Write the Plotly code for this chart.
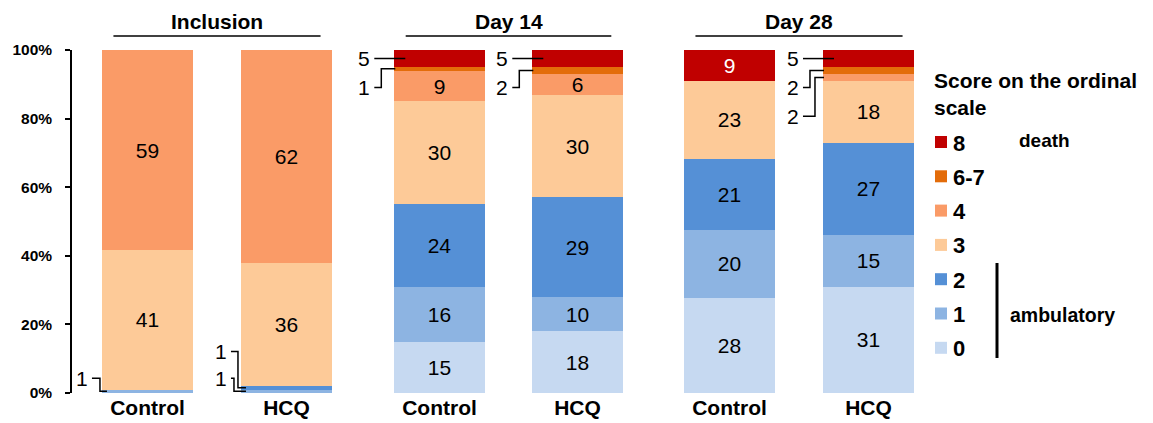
import plotly.graph_objects as go

# ---------------- data ----------------
groups = ["Inclusion", "Day 14", "Day 28"]
arms = ["Control", "HCQ"]
score_names = ["0", "1", "2", "3", "4", "6-7", "8"]
score_colors = ["#C6D9F1", "#8DB4E2", "#5590D6", "#FDCA98", "#FA9B67", "#E36C0A", "#C00000"]
# values per score, bar order: [Incl Control, Incl HCQ, D14 Control, D14 HCQ, D28 Control, D28 HCQ]
score_0 = [0, 0, 15, 18, 28, 31]
score_1 = [1, 1, 16, 10, 20, 15]
score_2 = [0, 1, 24, 29, 21, 27]
score_3 = [41, 36, 30, 30, 23, 18]
score_4 = [59, 62, 9, 6, 0, 2]
score_6_7 = [0, 0, 1, 2, 0, 2]
score_8 = [0, 0, 5, 5, 9, 5]
series = [score_0, score_1, score_2, score_3, score_4, score_6_7, score_8]
y_ticks = [0, 20, 40, 60, 80, 100]
y_tick_labels = ["0%", "20%", "40%", "60%", "80%", "100%"]
legend_title_lines = ["Score on the ordinal", "scale"]
death_label = "death"
ambulatory_label = "ambulatory"

# ---------------- layout constants ----------------
PAGE_OFF = 8                      # default body margin of the html page
W, H = 1153 - PAGE_OFF, 423 - PAGE_OFF
FONT = "Liberation Sans, Arial, sans-serif"
Y0_PX, Y100_PX = 393, 50
axes_px = [(72, 356, -0.543), (370.5, 646.5, -0.5), (660, 938, -0.5)]
BAR_FRAC = 0.655
INSIDE_MIN = 6

def px_x(p):
    return (p - PAGE_OFF) / W

def px_y(p):
    return 1 - (p - PAGE_OFF) / H

fig = go.Figure()

xa_names = ["x", "x2", "x3"]
for g in range(3):
    for k in range(7):
        vals = series[k][2 * g:2 * g + 2]
        txt = [str(v) if v >= INSIDE_MIN else "" for v in vals]
        fig.add_trace(go.Bar(
            x=arms, y=vals, xaxis=xa_names[g], yaxis="y",
            marker=dict(color=score_colors[k], line=dict(width=0)),
            text=txt, textposition="inside", insidetextanchor="middle",
            textangle=0,
            textfont=dict(size=21, family=FONT, color="white" if k == 6 else "black"),
            showlegend=False, hoverinfo="skip",
        ))

layout = dict(
    width=W, height=H, margin=dict(l=0, r=0, t=0, b=0),
    paper_bgcolor="white", plot_bgcolor="white",
    barmode="stack", barnorm="percent", bargap=1 - BAR_FRAC,
    uniformtext=dict(minsize=21, mode="show"),
    font=dict(family=FONT, color="black"),
    yaxis=dict(domain=[px_y(Y0_PX), px_y(Y100_PX)], range=[0, 100],
               anchor="x", tickvals=y_ticks,
               ticktext=["<b>%s</b>" % t for t in y_tick_labels],
               tickfont=dict(size=15.5, family=FONT, color="black"),
               ticks="outside", ticklen=5, tickwidth=1.5, tickcolor="black",
               showline=True, linewidth=1.5, linecolor="black",
               showgrid=False, zeroline=False, ticklabelstandoff=10,
               automargin=False),
)
for g in range(3):
    p0, p1, r0 = axes_px[g]
    key = "xaxis" if g == 0 else "xaxis%d" % (g + 1)
    layout[key] = dict(
        domain=[px_x(p0), px_x(p1)], range=[r0, 1.5], anchor="y",
        type="category", categoryorder="array", categoryarray=arms,
        tickvals=arms, ticktext=["<b>%s</b>" % a for a in arms],
        tickfont=dict(size=21, family=FONT, color="black"),
        showline=False, showgrid=False, zeroline=False, ticks="",
        automargin=False, fixedrange=True,
    )
fig.update_layout(**layout)

annotations = []
shapes = []

# group titles with underline
for g in range(3):
    annotations.append(dict(xref=xa_names[g], yref="paper", x=0.5, y=px_y(8),
                            text="<b>%s</b>" % groups[g], showarrow=False,
                            xanchor="center", yanchor="top",
                            font=dict(size=21, family=FONT, color="black")))
    shapes.append(dict(type="line", xref=xa_names[g], yref="paper",
                       x0=0.5 - 0.745, x1=0.5 + 0.745, y0=px_y(36), y1=px_y(36),
                       line=dict(color="black", width=1.5)))

# leader labels for small segments
for b in range(6):
    g, a = divmod(b, 2)
    p0, p1, r0 = axes_px[g]
    spacing = (p1 - p0) / (1.5 - r0)
    vals = [series[k][b] for k in range(7)]
    tot = float(sum(vals))
    cum = 0.0
    segs = []
    for k, v in enumerate(vals):
        pct = v / tot * 100
        if 0 < v < INSIDE_MIN:
            segs.append((k, v, cum + pct / 2))
        cum += pct
    if not segs:
        continue
    bar_left = a - BAR_FRAC / 2
    u = lambda px: px / spacing
    top = segs[0][2] > 50
    if top:
        segs.sort(key=lambda s: -s[2])
        text_dx, line_dx, elbows, tail = -22, -20, [-13, -8], 1
        ys = []
        for i, s in enumerate(segs):
            ys.append(s[2] if i == 0 else ys[-1] - 8.4)
    else:
        segs.sort(key=lambda s: s[2])
        text_dx, line_dx, elbows, tail = -12, -10, [-7, -3], 5
        if len(segs) == 1:
            elbows = [-2]
        ys = []
        for i, s in enumerate(segs):
            ys.append(4.3 if i == 0 else ys[-1] + 7.8)
    ei = 0
    for (k, v, mid), ly in zip(segs, ys):
        annotations.append(dict(xref=xa_names[g], yref="y", x=bar_left + u(text_dx), y=ly,
                                text=str(v), showarrow=False, xanchor="right",
                                yanchor="middle",
                                font=dict(size=21, family=FONT, color="black")))
        if abs(ly - mid) < 1e-6:
            path = "M %f,%f L %f,%f" % (bar_left + u(line_dx), ly, bar_left + u(11), ly)
        else:
            ex = bar_left + u(elbows[min(ei, len(elbows) - 1)])
            ei += 1
            path = "M %f,%f L %f,%f L %f,%f L %f,%f" % (
                bar_left + u(line_dx), ly, ex, ly, ex, mid, bar_left + u(tail), mid)
        shapes.append(dict(type="path", xref=xa_names[g], yref="y", path=path,
                           line=dict(color="black", width=1.5)))

# custom legend
annotations.append(dict(xref="paper", yref="paper", x=px_x(932), y=px_y(80),
                        text="<b>%s</b>" % legend_title_lines[0], showarrow=False,
                        xanchor="left", yanchor="middle",
                        font=dict(size=21, family=FONT, color="black")))
annotations.append(dict(xref="paper", yref="paper", x=px_x(932), y=px_y(107),
                        text="<b>%s</b>" % legend_title_lines[1], showarrow=False,
                        xanchor="left", yanchor="middle",
                        font=dict(size=21, family=FONT, color="black")))
LEG_Y0, LEG_STEP = 142, 34.3
for i, k in enumerate(range(6, -1, -1)):
    cy = LEG_Y0 + i * LEG_STEP
    shapes.append(dict(type="rect", xref="paper", yref="paper",
                       x0=px_x(935), x1=px_x(947), y0=px_y(cy + 6), y1=px_y(cy - 6),
                       fillcolor=score_colors[k], line=dict(width=0)))
    annotations.append(dict(xref="paper", yref="paper", x=px_x(951), y=px_y(cy + 1),
                            text="<b>%s</b>" % score_names[k], showarrow=False,
                            xanchor="left", yanchor="middle",
                            font=dict(size=22, family=FONT, color="black")))
annotations.append(dict(xref="paper", yref="paper", x=px_x(1017), y=px_y(140),
                        text="<b>%s</b>" % death_label, showarrow=False,
                        xanchor="left", yanchor="middle",
                        font=dict(size=19, family=FONT, color="black")))
annotations.append(dict(xref="paper", yref="paper", x=px_x(1008), y=px_y(315),
                        text="<b>%s</b>" % ambulatory_label, showarrow=False,
                        xanchor="left", yanchor="middle",
                        font=dict(size=19.5, family=FONT, color="black")))
shapes.append(dict(type="line", xref="paper", yref="paper",
                   x0=px_x(997), x1=px_x(997), y0=px_y(263), y1=px_y(358),
                   line=dict(color="black", width=3)))

fig.update_layout(annotations=annotations, shapes=shapes)
fig.write_html("out.html")
